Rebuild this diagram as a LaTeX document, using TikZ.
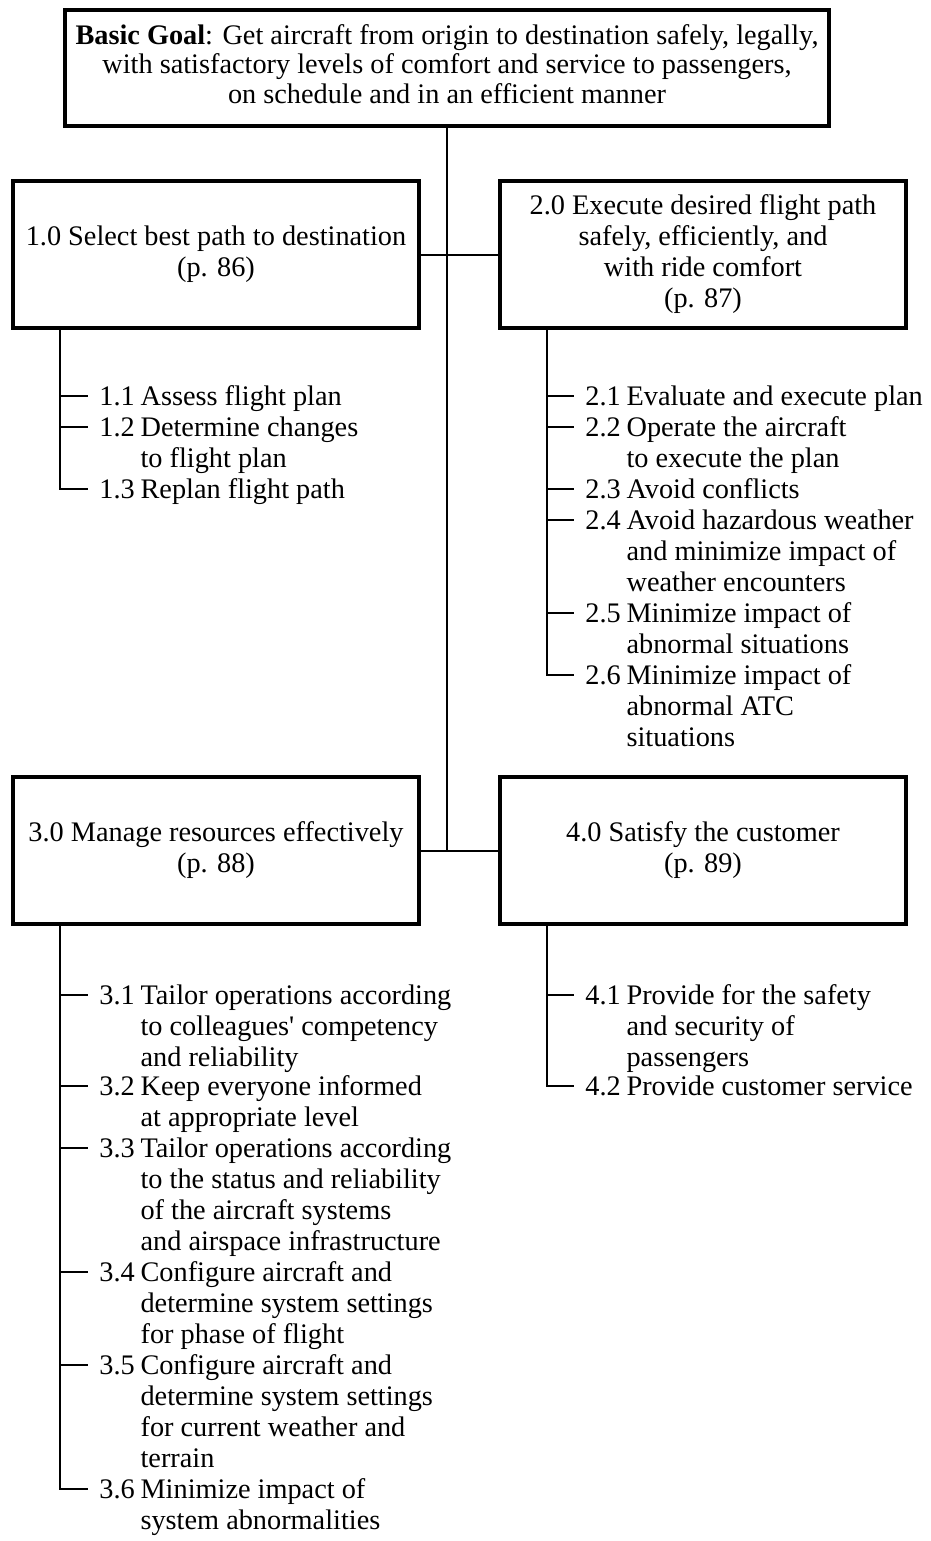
\documentclass[tikz,border=0pt]{standalone}
\usepackage{fontspec}
\setmainfont{Liberation Serif}
\usetikzlibrary{positioning,calc}

\tikzset{
  goalbox/.style={draw, line width=1.8pt, align=center, inner sep=0pt,
    minimum width=203pt, minimum height=73.5pt},
  link/.style={line width=1pt},
  itemnum/.style={anchor=west, inner sep=0pt},
  itemtext/.style={anchor=base west, inner sep=0pt, xshift=0.25em},
}
\newcommand{\goallines}[1]{\begin{tabular}[t]{@{}l@{}}#1\end{tabular}}

\begin{document}
\begin{tikzpicture}[x=0.5pt, y=-0.5pt, font=\fontsize{14.15pt}{15.5pt}\selectfont]
  \useasboundingbox (0,0) rectangle (931,1541);
  % Goal at the top
  \node[goalbox, minimum width=382pt, minimum height=58pt] (goal) at (447,68) {};
  \node[align=center, inner sep=0pt, font=\fontsize{14.15pt}{14.6pt}\selectfont]
    (goaltext) at (447,64)
    {\textbf{Basic Goal}: Get aircraft from origin to destination safely, legally,\\
     with satisfactory levels of comfort and service to passengers,\\
     on schedule and in an efficient manner};
  % Four functions
  \node[goalbox] (f1) at (216,254.5) {1.0 Select best path to destination\\(p. 86)};
  \node[goalbox] (f2) at (703,254.5)
    {2.0 Execute desired flight path\\safely, efficiently, and\\with ride comfort\\(p. 87)};
  \node[goalbox] (f3) at (216,850.5) {3.0 Manage resources effectively\\(p. 88)};
  \node[goalbox] (f4) at (703,850.5) {4.0 Satisfy the customer\\(p. 89)};
  % Trunk and cross links
  \draw[link] (goal.south) -- (goal.south |- f3.east);
  \draw[link] (f1.east) -- (f2.west);
  \draw[link] (f3.east) -- (f4.west);

  % Sub-functions of 1.0
  \foreach \k/\y/\m/\t in {11/396/1.1/{Assess flight plan},
      12/427/1.2/{Determine changes\\to flight plan},
      13/489/1.3/{Replan flight path}} {
    \node[itemnum] (n\k) at (99,\y) {\m};
    \node[itemtext] (t\k) at (n\k.base east) {\goallines{\t}};
  }
  % Sub-functions of 2.0
  \foreach \k/\y/\m/\t in {21/396/2.1/{Evaluate and execute plan},
      22/427/2.2/{Operate the aircraft\\to execute the plan},
      23/489/2.3/{Avoid conflicts},
      24/520/2.4/{Avoid hazardous weather\\and minimize impact of\\weather encounters},
      25/613/2.5/{Minimize impact of\\abnormal situations},
      26/675/2.6/{Minimize impact of\\abnormal ATC\\situations}} {
    \node[itemnum] (n\k) at (585,\y) {\m};
    \node[itemtext] (t\k) at (n\k.base east) {\goallines{\t}};
  }
  % Sub-functions of 3.0
  \foreach \k/\y/\m/\t in {31/995/3.1/{Tailor operations according\\to colleagues\textquotesingle{} competency\\and reliability},
      32/1086/3.2/{Keep everyone informed\\at appropriate level},
      33/1148/3.3/{Tailor operations according\\to the status and reliability\\of the aircraft systems\\and airspace infrastructure},
      34/1272/3.4/{Configure aircraft and\\determine system settings\\for phase of flight},
      35/1365/3.5/{Configure aircraft and\\determine system settings\\for current weather and\\terrain},
      36/1489/3.6/{Minimize impact of\\system abnormalities}} {
    \node[itemnum] (n\k) at (99,\y) {\m};
    \node[itemtext] (t\k) at (n\k.base east) {\goallines{\t}};
  }
  % Sub-functions of 4.0
  \foreach \k/\y/\m/\t in {41/995/4.1/{Provide for the safety\\and security of\\passengers},
      42/1086/4.2/{Provide customer service}} {
    \node[itemnum] (n\k) at (585,\y) {\m};
    \node[itemtext] (t\k) at (n\k.base east) {\goallines{\t}};
  }

  % Spines and ticks
  \coordinate (s1) at ($(f1.south west)+(49,0)$);
  \coordinate (s2) at ($(f2.south west)+(49,0)$);
  \coordinate (s3) at ($(f3.south west)+(49,0)$);
  \coordinate (s4) at ($(f4.south west)+(49,0)$);
  \draw[link] (s1) |- ([xshift=-5.5pt]n13.west);
  \draw[link] (s2) |- ([xshift=-5.5pt]n26.west);
  \draw[link] (s3) |- ([xshift=-5.5pt]n36.west);
  \draw[link] (s4) |- ([xshift=-5.5pt]n42.west);
  \foreach \s/\k in {1/11,1/12,2/21,2/22,2/23,2/24,2/25,3/31,3/32,3/33,3/34,3/35,4/41}
    \draw[link] (s\s |- n\k.west) -- ([xshift=-5.5pt]n\k.west);
\end{tikzpicture}
\end{document}
